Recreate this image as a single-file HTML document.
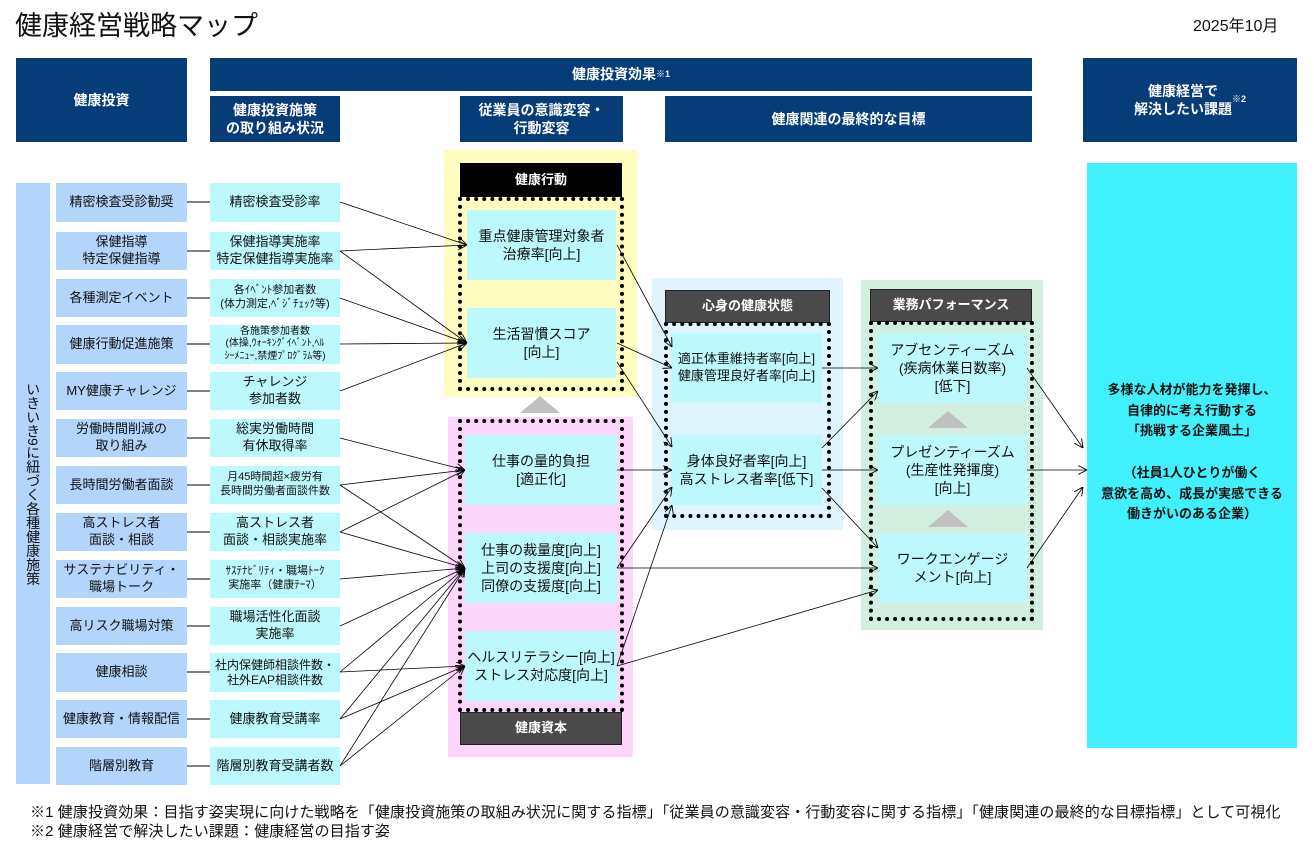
<!DOCTYPE html>
<html><head><meta charset="utf-8"><style>
*{margin:0;padding:0;box-sizing:border-box}
body{width:1314px;height:843px;position:relative;background:#fff;font-family:"Liberation Sans","Noto Sans CJK JP",sans-serif;color:#111;overflow:hidden}
.a{position:absolute;display:flex;align-items:center;justify-content:center;text-align:center;line-height:1.3}
.nv{background:#063d78;color:#fff;font-weight:bold;font-size:14px}
.c1{background:#b3d4fb;font-size:13px}
.c2{background:#bdf8fd;font-size:13px}
.c2s{background:#bdf8fd;font-size:11px;line-height:1.25}
.bx{background:#bdf8fd;font-size:14px}
.hd{color:#fff;font-weight:bold;font-size:13px}
.dot{position:absolute;border:4px dotted #000}
.tri{position:absolute;width:0;height:0;border-left:20px solid transparent;border-right:20px solid transparent;border-bottom:17px solid #c0c0c0}
sup{font-size:9px}
</style></head><body>
<div style="position:absolute;left:15px;top:4px;font-size:27px;">健康経営戦略マップ</div>
<div style="position:absolute;left:1193px;top:12px;font-size:16px;">2025年10月</div>

<div class="a nv" style="left:16px;top:58px;width:171px;height:84px">健康投資</div>
<div class="a nv" style="left:210px;top:58px;width:822px;height:33px">健康投資効果<sup>※1</sup></div>
<div class="a nv" style="left:210px;top:96px;width:130px;height:46px">健康投資施策<br>の取り組み状況</div>
<div class="a nv" style="left:460px;top:96px;width:163px;height:46px">従業員の意識変容・<br>行動変容</div>
<div class="a nv" style="left:665px;top:96px;width:367px;height:46px">健康関連の最終的な目標</div>
<div class="a nv" style="left:1083px;top:58px;width:214px;height:84px">健康経営で<br>解決したい課題<sup>※2</sup></div>

<div class="a c1" style="left:16px;top:183px;width:34px;height:601px;writing-mode:vertical-rl;font-size:14px;">いきいき9に紐づく各種健康施策</div>

<div class="a c1" style="left:56px;top:183px;width:131px;height:39px">精密検査受診勧奨</div>
<div class="a c1" style="left:56px;top:232px;width:131px;height:38px">保健指導<br>特定保健指導</div>
<div class="a c1" style="left:56px;top:279px;width:131px;height:38px">各種測定イベント</div>
<div class="a c1" style="left:56px;top:325px;width:131px;height:39px">健康行動促進施策</div>
<div class="a c1" style="left:56px;top:372px;width:131px;height:38px">MY健康チャレンジ</div>
<div class="a c1" style="left:56px;top:419px;width:131px;height:38px">労働時間削減の<br>取り組み</div>
<div class="a c1" style="left:56px;top:466px;width:131px;height:38px">長時間労働者面談</div>
<div class="a c1" style="left:56px;top:513px;width:131px;height:38px">高ストレス者<br>面談・相談</div>
<div class="a c1" style="left:56px;top:560px;width:131px;height:38px">サステナビリティ・<br>職場トーク</div>
<div class="a c1" style="left:56px;top:607px;width:131px;height:38px">高リスク職場対策</div>
<div class="a c1" style="left:56px;top:653px;width:131px;height:39px">健康相談</div>
<div class="a c1" style="left:56px;top:700px;width:131px;height:38px">健康教育・情報配信</div>
<div class="a c1" style="left:56px;top:747px;width:131px;height:38px">階層別教育</div>

<div class="a c2" style="left:210px;top:183px;width:130px;height:39px">精密検査受診率</div>
<div class="a c2" style="left:210px;top:232px;width:130px;height:38px">保健指導実施率<br>特定保健指導実施率</div>
<div class="a c2s" style="left:210px;top:279px;width:130px;height:38px">各ｲﾍﾞﾝﾄ参加者数<br>(体力測定,ﾍﾞｼﾞﾁｪｯｸ等)</div>
<div class="a c2s" style="left:210px;top:325px;width:130px;height:39px;font-size:10px;line-height:1.25">各施策参加者数<br>(体操,ｳｫｰｷﾝｸﾞｲﾍﾞﾝﾄ,ﾍﾙ<br>ｼｰﾒﾆｭｰ,禁煙ﾌﾟﾛｸﾞﾗﾑ等)</div>
<div class="a c2" style="left:210px;top:372px;width:130px;height:38px">チャレンジ<br>参加者数</div>
<div class="a c2" style="left:210px;top:419px;width:130px;height:38px">総実労働時間<br>有休取得率</div>
<div class="a c2s" style="left:210px;top:466px;width:130px;height:38px">月45時間超×疲労有<br>長時間労働者面談件数</div>
<div class="a c2" style="left:210px;top:513px;width:130px;height:38px">高ストレス者<br>面談・相談実施率</div>
<div class="a c2s" style="left:210px;top:560px;width:130px;height:38px">ｻｽﾃﾅﾋﾞﾘﾃｨ・職場ﾄｰｸ<br>実施率（健康ﾃｰﾏ）</div>
<div class="a c2" style="left:210px;top:607px;width:130px;height:38px">職場活性化面談<br>実施率</div>
<div class="a c2s" style="left:210px;top:653px;width:130px;height:39px;font-size:12px">社内保健師相談件数・<br>社外EAP相談件数</div>
<div class="a c2" style="left:210px;top:700px;width:130px;height:38px">健康教育受講率</div>
<div class="a c2" style="left:210px;top:747px;width:130px;height:38px">階層別教育受講者数</div>

<div style="position:absolute;left:444px;top:150px;width:193px;height:247px;background:#fffdc0"></div>
<div class="a hd" style="left:460px;top:163px;width:162px;height:34px;background:#000">健康行動</div>
<div class="dot" style="left:458px;top:197px;width:166px;height:194px"></div>
<div class="a bx" style="left:467px;top:210px;width:149px;height:70px">重点健康管理対象者<br>治療率[向上]</div>
<div class="a bx" style="left:467px;top:308px;width:149px;height:70px">生活習慣スコア<br>[向上]</div>
<div class="tri" style="left:520px;top:396px"></div>

<div style="position:absolute;left:448px;top:417px;width:185px;height:340px;background:#fdd6fb"></div>
<div class="dot" style="left:458px;top:419px;width:166px;height:293px"></div>
<div class="a bx" style="left:465px;top:435px;width:152px;height:70px">仕事の量的負担<br>[適正化]</div>
<div class="a bx" style="left:465px;top:533px;width:152px;height:70px">仕事の裁量度[向上]<br>上司の支援度[向上]<br>同僚の支援度[向上]</div>
<div class="a bx" style="left:465px;top:631px;width:152px;height:70px">ヘルスリテラシー[向上]<br>ストレス対応度[向上]</div>
<div class="a hd" style="left:460px;top:712px;width:162px;height:33px;background:#4a4a4a;border:1px solid #222">健康資本</div>

<div style="position:absolute;left:652px;top:278px;width:191px;height:252px;background:#e0f4fd"></div>
<div class="a hd" style="left:665px;top:290px;width:165px;height:33px;background:#4a4a4a;border:1px solid #222">心身の健康状態</div>
<div class="dot" style="left:664px;top:322px;width:167px;height:196px"></div>
<div class="a bx" style="left:671px;top:333px;width:151px;height:70px;font-size:13px">適正体重維持者率[向上]<br>健康管理良好者率[向上]</div>
<div class="a bx" style="left:671px;top:435px;width:151px;height:70px">身体良好者率[向上]<br>高ストレス者率[低下]</div>

<div style="position:absolute;left:861px;top:280px;width:182px;height:350px;background:#d2efe0"></div>
<div class="a hd" style="left:870px;top:289px;width:162px;height:33px;background:#4a4a4a;border:1px solid #222">業務パフォーマンス</div>
<div class="dot" style="left:869px;top:321px;width:165px;height:300px"></div>
<div class="a bx" style="left:878px;top:333px;width:149px;height:70px">アブセンティーズム<br>(疾病休業日数率)<br>[低下]</div>
<div class="tri" style="left:928px;top:411px"></div>
<div class="a bx" style="left:878px;top:435px;width:149px;height:70px">プレゼンティーズム<br>(生産性発揮度)<br>[向上]</div>
<div class="tri" style="left:928px;top:510px"></div>
<div class="a bx" style="left:878px;top:533px;width:149px;height:70px">ワークエンゲージ<br>メント[向上]</div>

<div class="a" style="left:1087px;top:163px;width:210px;height:585px;background:#40f0fd;font-size:13px;font-weight:bold;line-height:1.6;padding-bottom:6px">多様な人材が能力を発揮し、<br>自律的に考え行動する<br>「挑戦する企業風土」<br><br>（社員1人ひとりが働く<br>意欲を高め、成長が実感できる<br>働きがいのある企業）</div>

<svg style="position:absolute;left:0;top:0" width="1314" height="843">
<defs><marker id="m" viewBox="0 0 10 10" refX="10" refY="5" markerWidth="9" markerHeight="9" orient="auto" markerUnits="userSpaceOnUse"><path d="M0,0L10,5L0,10" fill="none" stroke="#000" stroke-width="1"/></marker></defs>
<g stroke="#000" stroke-width="1">
<line x1="187" y1="202" x2="210" y2="202"/><line x1="187" y1="251" x2="210" y2="251"/><line x1="187" y1="298" x2="210" y2="298"/><line x1="187" y1="344" x2="210" y2="344"/><line x1="187" y1="391" x2="210" y2="391"/><line x1="187" y1="438" x2="210" y2="438"/><line x1="187" y1="485" x2="210" y2="485"/><line x1="187" y1="532" x2="210" y2="532"/><line x1="187" y1="579" x2="210" y2="579"/><line x1="187" y1="626" x2="210" y2="626"/><line x1="187" y1="672" x2="210" y2="672"/><line x1="187" y1="719" x2="210" y2="719"/><line x1="187" y1="766" x2="210" y2="766"/>
</g>
<g stroke="#000" stroke-width="0.8" fill="none" marker-end="url(#m)">
<line x1="340" y1="202" x2="467" y2="245"/>
<line x1="340" y1="251" x2="467" y2="245"/>
<line x1="340" y1="251" x2="467" y2="343"/>
<line x1="340" y1="298" x2="467" y2="343"/>
<line x1="340" y1="344" x2="467" y2="343"/>
<line x1="340" y1="391" x2="467" y2="343"/>
<line x1="340" y1="438" x2="465" y2="470"/>
<line x1="340" y1="485" x2="465" y2="470"/>
<line x1="340" y1="485" x2="465" y2="568"/>
<line x1="340" y1="532" x2="465" y2="470"/>
<line x1="340" y1="532" x2="465" y2="568"/>
<line x1="340" y1="579" x2="465" y2="568"/>
<line x1="340" y1="626" x2="465" y2="568"/>
<line x1="340" y1="672" x2="465" y2="568"/>
<line x1="340" y1="672" x2="465" y2="666"/>
<line x1="340" y1="719" x2="465" y2="568"/>
<line x1="340" y1="719" x2="465" y2="666"/>
<line x1="340" y1="766" x2="465" y2="568"/>
<line x1="340" y1="766" x2="465" y2="666"/>
<line x1="617" y1="245" x2="672" y2="347"/>
<line x1="617" y1="343" x2="672" y2="368"/>
<line x1="617" y1="362" x2="672" y2="447"/>
<line x1="617" y1="470" x2="672" y2="470"/>
<line x1="617" y1="568" x2="672" y2="487"/>
<line x1="617" y1="666" x2="672" y2="505"/>
<line x1="617" y1="568" x2="878" y2="568"/>
<line x1="617" y1="666" x2="878" y2="590"/>
<line x1="822" y1="368" x2="878" y2="368"/>
<line x1="822" y1="448" x2="878" y2="391"/>
<line x1="822" y1="470" x2="878" y2="470"/>
<line x1="822" y1="488" x2="878" y2="548"/>
<line x1="1027" y1="368" x2="1083" y2="448"/>
<line x1="1027" y1="470" x2="1087" y2="470"/>
<line x1="1027" y1="568" x2="1083" y2="487"/>
</g>
</svg>

<div style="position:absolute;left:30px;top:803px;font-size:15px;line-height:19px;white-space:nowrap;letter-spacing:0.1px">※1 健康投資効果：目指す姿実現に向けた戦略を「健康投資施策の取組み状況に関する指標」「従業員の意識変容・行動変容に関する指標」「健康関連の最終的な目標指標」として可視化<br>※2 健康経営で解決したい課題：健康経営の目指す姿</div>
</body></html>
